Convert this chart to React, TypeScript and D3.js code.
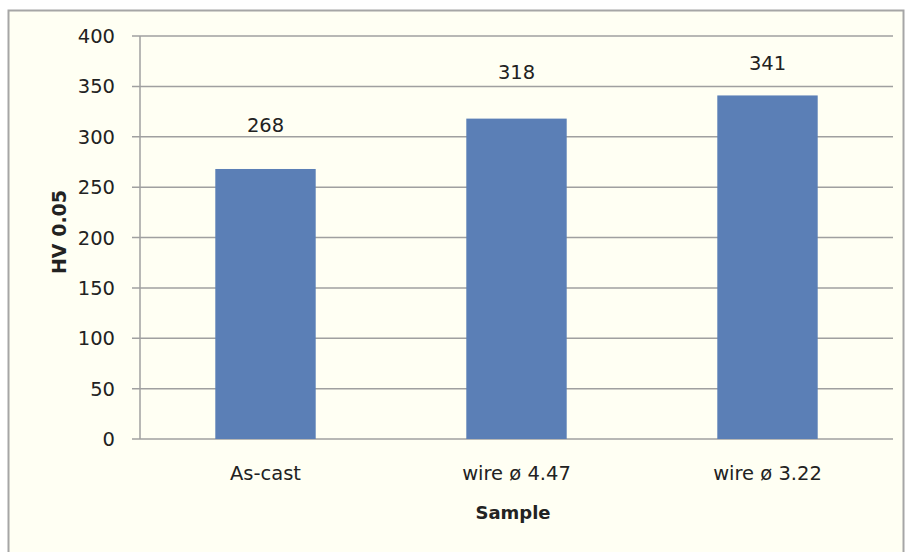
import React from "react";
import * as d3 from "d3";

const categories = ["As-cast", "wire ø 4.47", "wire ø 3.22"];
const values = [268, 318, 341];
const yTicks = [0, 50, 100, 150, 200, 250, 300, 350, 400];

export default function App() {
  const W = 906, H = 552;
  const left = 140, right = 893, top = 36, bottom = 439;
  const labelOffsets = [44, 47, 32];
  const x = d3.scaleBand<string>().domain(categories).range([left, right]).paddingInner(0.6).paddingOuter(0.3);
  const y = d3.scaleLinear().domain([0, 400]).range([bottom, top]);
  const font = "Tahoma, 'DejaVu Sans', sans-serif";
  return (
    <svg width={W} height={H} style={{ position: "absolute", left: 0, top: 0 }} fontFamily={font}>
      <rect x={8.5} y={10.5} width={895} height={560} fill="#FFFFF3" stroke="#A6A6A6" strokeWidth={2} />
      {yTicks.map((t) => (
        <g key={t}>
          <line x1={132} x2={right} y1={y(t)} y2={y(t)} stroke="#A0A0A0" strokeWidth={1.5} />
          <text x={115} y={y(t)} dy="0.36em" textAnchor="end" fontSize={19.5} fill="#222">{t}</text>
        </g>
      ))}
      <line x1={left} x2={left} y1={top} y2={bottom} stroke="#A0A0A0" strokeWidth={1.5} />
      {categories.map((c, i) => (
        <g key={c}>
          <rect x={x(c)!} y={y(values[i])} width={x.bandwidth()} height={bottom - y(values[i])} fill="#5B7FB6" />
          <text x={x(c)! + x.bandwidth() / 2} y={y(values[i]) - labelOffsets[i]} dy="0.36em" textAnchor="middle" fontSize={19.5} fill="#222">{values[i]}</text>
          <text x={x(c)! + x.bandwidth() / 2} y={473} dy="0.36em" textAnchor="middle" fontSize={19.5} fill="#222">{c}</text>
        </g>
      ))}
      <text x={513} y={513} dy="0.36em" textAnchor="middle" fontSize={18} fontWeight="bold" fill="#222">Sample</text>
      <text transform={`translate(59,232) rotate(-90)`} dy="0.36em" textAnchor="middle" fontSize={19} fontWeight="bold" fill="#222">HV 0.05</text>
    </svg>
  );
}
